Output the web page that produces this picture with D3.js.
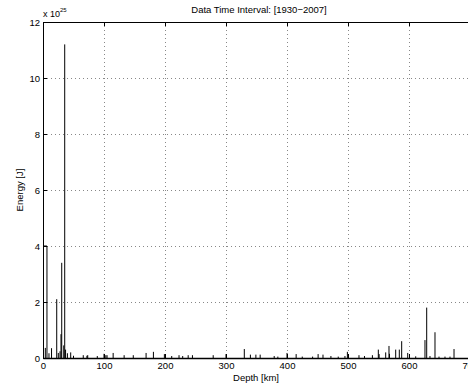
<!DOCTYPE html>
<html><head><meta charset="utf-8">
<script src="https://cdn.jsdelivr.net/npm/d3@7"></script>
<style>body{margin:0;background:#fff}svg{display:block}text{font-family:"Liberation Sans",Arial,sans-serif}</style>
</head><body><svg id="c" width="468" height="387"></svg>
<script>
// Energy in units of 1e25 J
const firstBin = [0, 6.5, 4.0]; // [depth from, depth to, energy]
const depths   = [3.8, 9.8, 14, 22.5, 25.1, 27.9, 29.5, 30.7, 34, 35.6, 37, 40, 45.4, 50, 66, 72, 73.3, 89, 100, 103, 105, 115, 133, 148, 169, 181, 199, 211, 223, 229, 238, 245, 279, 300, 330, 340, 349, 356, 379, 385, 400, 415, 425, 442, 451, 459, 472, 484, 495, 499, 518, 527, 540, 549.7, 551, 561.8, 567.2, 568, 578.2, 584.1, 588, 597.9, 611, 626.2, 629, 634.4, 642.6, 649.2, 659, 667.2, 673.8];
const energies = [0.36, 0.17, 0.35, 2.1, 0.18, 0.24, 0.85, 3.4, 0.45, 11.2, 0.3, 0.17, 0.2, 0.08, 0.1, 0.08, 0.1, 0.07, 0.15, 0.1, 0.1, 0.18, 0.1, 0.1, 0.18, 0.22, 0.14, 0.07, 0.1, 0.07, 0.1, 0.1, 0.1, 0.14, 0.32, 0.12, 0.12, 0.12, 0.07, 0.05, 0.18, 0.14, 0.05, 0.05, 0.14, 0.12, 0.07, 0.05, 0.07, 0.22, 0.1, 0.07, 0.1, 0.3, 0.14, 0.2, 0.43, 0.15, 0.3, 0.3, 0.6, 0.18, 0.06, 0.64, 1.8, 0.07, 0.92, 0.05, 0.05, 0.05, 0.32];
const xTicks = [0, 100, 200, 300, 400, 500, 600, 700];
const yTicks = [0, 2, 4, 6, 8, 10, 12];
const titleText = "Data Time Interval: [1930\u22122007]";
const xLabel = "Depth [km]";
const yLabel = "Energy [J]";
const expBase = "x 10", expPow = "25";

const svg = d3.select("#c");
const L = 43, T = 22, B = 358, R = 470;
const x = d3.scaleLinear().domain([0, 700]).range([L, R]);
const y = d3.scaleLinear().domain([0, 12]).range([B, T]);

// grid
const g = svg.append("g");
g.selectAll(".gx").data(xTicks.filter(t => t > 0 && t < 700)).enter().append("line")
  .attr("x1", d => Math.round(x(d)) + 0.5).attr("x2", d => Math.round(x(d)) + 0.5)
  .attr("y1", T).attr("y2", B).attr("stroke", "#888").attr("stroke-dasharray", "1,3");
g.selectAll(".gy").data(yTicks.filter(t => t > 0 && t < 12)).enter().append("line")
  .attr("y1", d => Math.round(y(d)) + 0.5).attr("y2", d => Math.round(y(d)) + 0.5)
  .attr("x1", L).attr("x2", R).attr("stroke", "#888").attr("stroke-dasharray", "1,3");

// bars
svg.append("g").selectAll("line").data(depths.map((d, i) => [d, energies[i]])).enter().append("line")
  .attr("x1", d => x(d[0])).attr("x2", d => x(d[0]))
  .attr("y1", y(0)).attr("y2", d => y(d[1]))
  .attr("stroke", "#000").attr("stroke-width", 1);
svg.append("path")
  .attr("d", `M${x(firstBin[0])},${y(firstBin[2])}H${x(firstBin[1])}V${y(0)}`)
  .attr("fill", "none").attr("stroke", "#000").attr("stroke-width", 1);

// axes
const ax = svg.append("g").attr("transform", `translate(0,${B})`)
  .call(d3.axisBottom(x).tickValues(xTicks).tickSize(-4).tickSizeOuter(0).tickPadding(4).tickFormat(d3.format("d")));
const ay = svg.append("g").attr("transform", `translate(${L},0)`)
  .call(d3.axisLeft(y).tickValues(yTicks).tickSize(-4).tickSizeOuter(0).tickPadding(3).tickFormat(d3.format("d")));
const axT = svg.append("g").attr("transform", `translate(0,${T})`)
  .call(d3.axisTop(x).tickValues(xTicks).tickSize(-4).tickSizeOuter(0).tickFormat(""));
[ax, ay, axT].forEach(a => {
  a.selectAll("path,line").attr("stroke", "#000");
  a.selectAll("text").attr("font-size", 9.5).attr("fill", "#000").attr("font-family", "Liberation Sans, Arial, sans-serif");
});
ax.select("path.domain").attr("stroke-width", 1.6);

// labels
svg.append("text").attr("x", 259).attr("y", 13).attr("text-anchor", "middle").attr("font-size", 9.5).text(titleText);
svg.append("text").attr("x", 256).attr("y", 381).attr("text-anchor", "middle").attr("font-size", 9.5).text(xLabel);
svg.append("text").attr("transform", `translate(23,${(T + B) / 2}) rotate(-90)`).attr("text-anchor", "middle").attr("font-size", 9.5).text(yLabel);
const ex = svg.append("text").attr("x", 43).attr("y", 17).attr("font-size", 9);
ex.append("tspan").text(expBase);
ex.append("tspan").attr("font-size", 6).attr("dy", -5).text(expPow);
</script></body></html>
